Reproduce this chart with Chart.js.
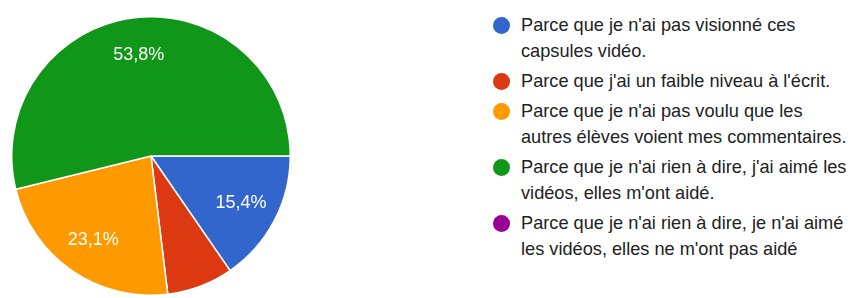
<!DOCTYPE html>
<html lang="fr">
<head>
    <meta charset="UTF-8">
    <title>Pie chart</title>
    <script src="https://cdn.jsdelivr.net/npm/chart.js"></script>
    <style>
        body { margin: 0; background: #fff; width: 852px; height: 298px; overflow: hidden; position: relative; font-family: Arial, "Liberation Sans", sans-serif; }
        #pieBox { position: absolute; left: 11px; top: 16px; width: 280px; height: 280px; }
        #legend { position: absolute; left: 493px; top: 12px; margin: 0; padding: 0; list-style: none; }
        #legend li { display: flex; align-items: flex-start; margin-bottom: 4px; }
        #legend .dot { width: 17px; height: 17px; border-radius: 50%; margin-top: 4.5px; margin-right: 11px; flex: none; }
        #legend .txt { font-size: 18.2px; line-height: 26px; color: #222; white-space: nowrap; }
    </style>
</head>
<body>
    <div id="pieBox"><canvas id="Chart"></canvas></div>
    <ul id="legend"></ul>
    <script>
        // answers, each label split on its printed lines
        const labels = [
            ["Parce que je n'ai pas visionné ces", "capsules vidéo."],
            ["Parce que j'ai un faible niveau à l'écrit."],
            ["Parce que je n'ai pas voulu que les", "autres élèves voient mes commentaires."],
            ["Parce que je n'ai rien à dire, j'ai aimé les", "vidéos, elles m'ont aidé."],
            ["Parce que je n'ai rien à dire, je n'ai aimé", "les vidéos, elles ne m'ont pas aidé"]
        ];
        const counts = [2, 1, 3, 7, 0];
        const colors = ['#3366cc', '#dc3912', '#ff9900', '#109618', '#990099'];

        const total = counts.reduce((a, b) => a + b, 0);

        // legend on the right
        const ul = document.getElementById('legend');
        labels.forEach((lines, i) => {
            const li = document.createElement('li');
            const dot = document.createElement('span');
            dot.className = 'dot';
            dot.style.background = colors[i];
            const txt = document.createElement('span');
            txt.className = 'txt';
            txt.innerHTML = lines.join('<br>');
            li.appendChild(dot);
            li.appendChild(txt);
            ul.appendChild(li);
        });

        // percentages inside the slices
        const pctLabels = {
            id: 'pctLabels',
            afterDatasetsDraw(chart) {
                const ctx = chart.ctx;
                const meta = chart.getDatasetMeta(0);
                ctx.save();
                ctx.fillStyle = '#fff';
                ctx.font = '18px Arial, "Liberation Sans", sans-serif';
                ctx.textAlign = 'center';
                ctx.textBaseline = 'middle';
                meta.data.forEach((arc, i) => {
                    const pct = counts[i] / total * 100;
                    if (pct < 10) return;
                    const mid = (arc.startAngle + arc.endAngle) / 2;
                    const r = arc.outerRadius * 0.73;
                    ctx.fillText(pct.toFixed(1).replace('.', ',') + '%',
                        arc.x + Math.cos(mid) * r, arc.y + Math.sin(mid) * r);
                });
                ctx.restore();
            }
        };

        new Chart(document.getElementById('Chart'), {
            type: 'pie',
            data: {
                labels: labels.map(l => l.join(' ')),
                datasets: [{
                    data: counts,
                    backgroundColor: colors,
                    borderColor: '#fff',
                    borderWidth: 1.5
                }]
            },
            options: {
                responsive: true,
                maintainAspectRatio: false,
                animation: false,
                rotation: 90,
                layout: { padding: 0 },
                plugins: {
                    legend: { display: false },
                    tooltip: { enabled: false }
                }
            },
            plugins: [pctLabels]
        });
    </script>
</body>
</html>
